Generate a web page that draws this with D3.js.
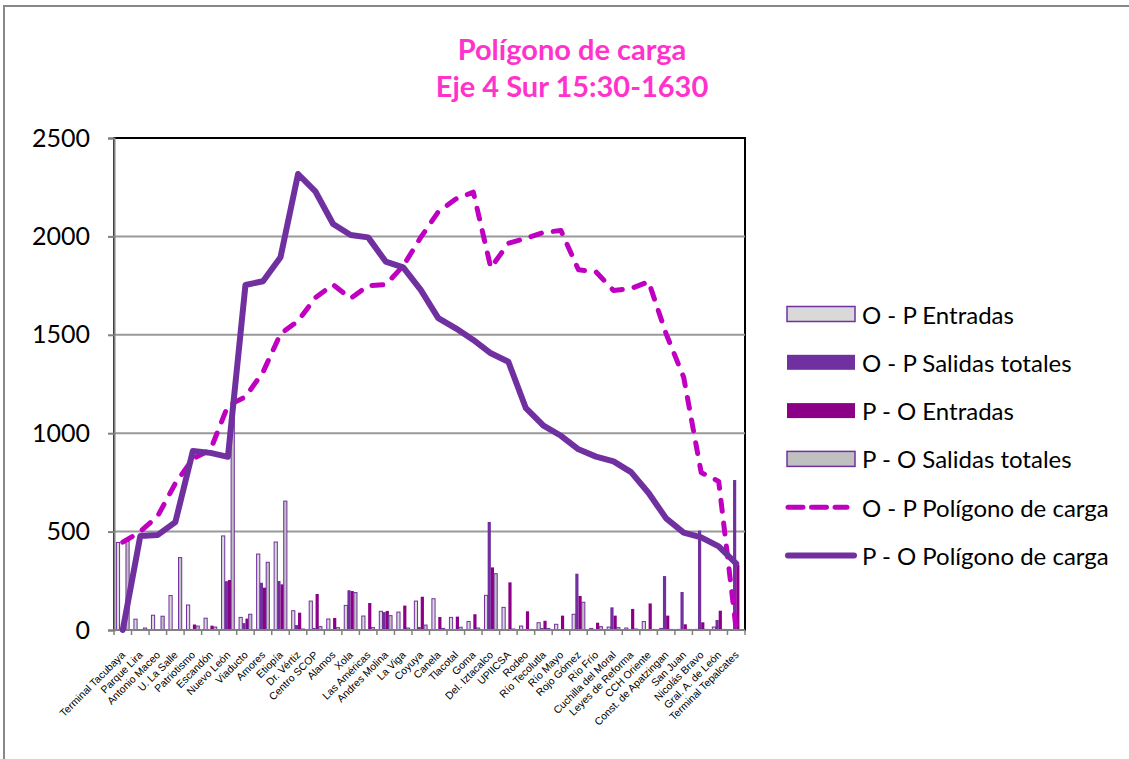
<!DOCTYPE html>
<html>
<head>
<meta charset="utf-8" />
<script src="https://cdn.jsdelivr.net/npm/d3@7"></script>
<style>
html, body { margin: 0; padding: 0; background: #fff; }
svg text { font-family: Lato, "Open Sans", sans-serif; }
.xlab { font-family: "Liberation Sans", Arial, sans-serif !important; font-size: 10.5px; }
</style>
</head>
<body>
<div id="chart"></div>
<script>
// estaciones del Eje 4 Sur
var categories = ["Terminal Tacubaya", "Parque Lira", "Antonio Maceo", "U. La Salle", "Patriotismo",
	"Escandón", "Nuevo León", "Viaducto", "Amores", "Etiopía", "Dr. Vértiz", "Centro SCOP", "Alamos",
	"Xola", "Las Américas", "Andres Molina", "La Viga", "Coyuya", "Canela", "Tlacotal", "Goma",
	"Del. Iztacalco", "UPIICSA", "Rodeo", "Río Tecolutla", "Río Mayo", "Rojo Gómez", "Río Frío",
	"Cuchilla del Moral", "Leyes de Reforma", "CCH Oriente", "Const. de Apatzingan", "San Juan",
	"Nicolás Bravo", "Gral. A. de León", "Terminal Tepalcates"];

var opEntradas = [445, 55, 75, 175, 127, 60, 478, 64, 386, 447, 98, 147, 56, 125, 71, 95, 91, 147,
	159, 64, 43, 176, 115, 20, 37, 29, 80, 8, 15, 10, 43, 8, 3, 3, 15, 0];
var opSalidas = [0, 0, 0, 0, 0, 0, 248, 35, 240, 249, 25, 10, 3, 202, 3, 91, 3, 15,
	3, 3, 3, 549, 5, 3, 10, 3, 286, 3, 115, 3, 5, 274, 193, 505, 51, 762];
var poEntradas = [0, 0, 0, 0, 28, 22, 254, 58, 215, 232, 88, 183, 61, 198, 137, 97, 124, 169,
	66, 68, 80, 318, 242, 95, 47, 73, 173, 37, 73, 107, 135, 73, 29, 39, 98, 330];
var poSalidas = [450, 10, 70, 368, 20, 15, 1150, 80, 344, 655, 5, 17, 12, 190, 12, 73, 10, 25,
	8, 14, 10, 286, 5, 3, 8, 3, 141, 17, 12, 5, 3, 3, 3, 3, 3, 0];

var opPoligono = [446, 500, 580, 745, 870, 915, 1140, 1185, 1310, 1505, 1570, 1690, 1755, 1685,
	1750, 1755, 1850, 1995, 2125, 2190, 2225, 1840, 1965, 1990, 2020, 2030, 1830, 1820, 1725,
	1735, 1770, 1505, 1285, 800, 755, 0];
var poPoligono = [0, 478, 483, 548, 910, 900, 880, 1753, 1772, 1894, 2317, 2227, 2063, 2007,
	1995, 1872, 1843, 1728, 1585, 1533, 1474, 1406, 1363, 1127, 1038, 987, 918, 881, 857, 802,
	696, 567, 495, 471, 425, 337];

var yTicks = [0, 500, 1000, 1500, 2000, 2500];

var barSeries = [
	{ name: "O - P Entradas", values: opEntradas, fill: "#D9D9D9", stroke: "#7030A0" },
	{ name: "O - P Salidas totales", values: opSalidas, fill: "#7030A0", stroke: "none" },
	{ name: "P - O Entradas", values: poEntradas, fill: "#8B0087", stroke: "none" },
	{ name: "P - O Salidas totales", values: poSalidas, fill: "#C0C0C0", stroke: "#7030A0" }
];
var lineSeries = [
	{ name: "O - P Polígono de carga", values: opPoligono, color: "#C000C0", dash: true },
	{ name: "P - O Polígono de carga", values: poPoligono, color: "#7030A0", dash: false }
];

var W = 1129, H = 759;
var plot = { left: 114, right: 745, top: 138, bottom: 630 };

var svg = d3.select("#chart").append("svg")
	.attr("width", W)
	.attr("height", H);

// marco exterior
svg.append("rect")
	.attr("x", 4).attr("y", 6)
	.attr("width", W + 10).attr("height", H + 10)
	.attr("fill", "#fff")
	.attr("stroke", "#888")
	.attr("stroke-width", 2);

// titulo
svg.append("text")
	.attr("x", 572).attr("y", 48)
	.attr("text-anchor", "middle")
	.attr("dominant-baseline", "central")
	.attr("fill", "#FF33CC")
	.style("font-size", "29px").style("font-weight", "bold")
	.text("Polígono de carga");
svg.append("text")
	.attr("x", 572).attr("y", 85)
	.attr("text-anchor", "middle")
	.attr("dominant-baseline", "central")
	.attr("fill", "#FF33CC")
	.style("font-size", "29px").style("font-weight", "bold")
	.text("Eje 4 Sur 15:30-1630");

var x = d3.scaleBand()
	.domain(categories)
	.range([plot.left, plot.right])
	.paddingInner(0).paddingOuter(0);

var xBar = d3.scaleBand()
	.domain(d3.range(barSeries.length))
	.range([0, x.bandwidth()])
	.paddingInner(0).paddingOuter(0.75);

var y = d3.scaleLinear()
	.domain([0, 2500])
	.range([plot.bottom, plot.top]);

// area del grafico con borde negro arriba y a la derecha
svg.append("rect")
	.attr("x", plot.left).attr("y", plot.top)
	.attr("width", plot.right - plot.left).attr("height", plot.bottom - plot.top)
	.attr("fill", "none")
	.attr("stroke", "#000")
	.attr("stroke-width", 2);

// lineas de division
svg.append("g").selectAll("line")
	.data(yTicks.slice(1, -1))
	.enter().append("line")
	.attr("x1", plot.left).attr("x2", plot.right)
	.attr("y1", function(d) { return y(d); })
	.attr("y2", function(d) { return y(d); })
	.attr("stroke", "#999")
	.attr("stroke-width", 2);

// barras
var barG = svg.append("g");
barSeries.forEach(function(s, j) {
	barG.append("g").selectAll("rect")
		.data(s.values)
		.enter().append("rect")
		.attr("x", function(d, i) { return x(categories[i]) + xBar(j); })
		.attr("y", function(d) { return y(d); })
		.attr("width", xBar.bandwidth())
		.attr("height", function(d) { return y(0) - y(d); })
		.attr("fill", s.fill)
		.attr("stroke", s.stroke)
		.attr("stroke-width", s.stroke == "none" ? 0 : 1);
});

// ejes
var yAxis = svg.append("g")
	.attr("transform", "translate(" + plot.left + ",0)")
	.call(d3.axisLeft(y).tickValues(yTicks).tickFormat(d3.format("d")).tickSize(6).tickPadding(18));
yAxis.select(".domain").attr("stroke", "#808080").attr("stroke-width", 2);
yAxis.selectAll(".tick line").attr("stroke", "#808080").attr("stroke-width", 2);
yAxis.selectAll(".tick text")
	.style("font-family", "Lato, sans-serif")
	.style("font-size", "25px")
	.attr("fill", "#000");

var xAxisG = svg.append("g");
xAxisG.append("line")
	.attr("x1", plot.left).attr("x2", plot.right)
	.attr("y1", plot.bottom).attr("y2", plot.bottom)
	.attr("stroke", "#808080").attr("stroke-width", 2);
xAxisG.selectAll(".xtick")
	.data(categories.concat(["_end"]))
	.enter().append("line")
	.attr("class", "xtick")
	.attr("x1", function(d, i) { return plot.left + i * x.step(); })
	.attr("x2", function(d, i) { return plot.left + i * x.step(); })
	.attr("y1", plot.bottom).attr("y2", plot.bottom + 5)
	.attr("stroke", "#808080").attr("stroke-width", 1.5);

xAxisG.selectAll(".xlab")
	.data(categories)
	.enter().append("text")
	.attr("class", "xlab")
	.attr("text-anchor", "end")
	.attr("dy", "0.35em")
	.attr("transform", function(d) {
		var cx = x(d) + x.bandwidth() / 2;
		return "translate(" + (cx + 0.5) + "," + (plot.bottom + 23) + ") rotate(-45)";
	})
	.text(function(d) { return d; });

// poligonos de carga
var lineGen = d3.line()
	.x(function(d, i) { return x(categories[i]) + x.bandwidth() / 2; })
	.y(function(d) { return y(d); });

lineSeries.forEach(function(s) {
	svg.append("path")
		.datum(s.values)
		.attr("d", lineGen)
		.attr("fill", "none")
		.attr("stroke", s.color)
		.attr("stroke-width", s.dash ? 5 : 6)
		.attr("stroke-linejoin", "round")
		.attr("stroke-linecap", "round")
		.attr("stroke-dasharray", s.dash ? "11,12" : null);
});

// leyenda
var legendItems = barSeries.concat(lineSeries);
var leg = svg.append("g").selectAll("g")
	.data(legendItems)
	.enter().append("g")
	.attr("transform", function(d, i) { return "translate(0," + (314 + i * 48.3) + ")"; });

leg.each(function(d) {
	var g = d3.select(this);
	if (d.values && d.fill) {
		g.append("rect")
			.attr("x", 787).attr("y", -7.5)
			.attr("width", 68).attr("height", 15)
			.attr("fill", d.fill)
			.attr("stroke", d.stroke)
			.attr("stroke-width", d.stroke == "none" ? 0 : 1.5);
	} else {
		g.append("line")
			.attr("x1", 788).attr("x2", d.dash ? 847 : 854)
			.attr("y1", 0).attr("y2", 0)
			.attr("stroke", d.color)
			.attr("stroke-width", d.dash ? 5 : 6)
			.attr("stroke-linecap", "round")
			.attr("stroke-dasharray", d.dash ? "15,8.5" : null);
	}
	g.append("text")
		.attr("x", 862).attr("y", 0)
		.attr("dominant-baseline", "central")
		.style("font-size", "24px")
		.attr("fill", "#000")
		.text(d.name);
});
</script>
</body>
</html>
